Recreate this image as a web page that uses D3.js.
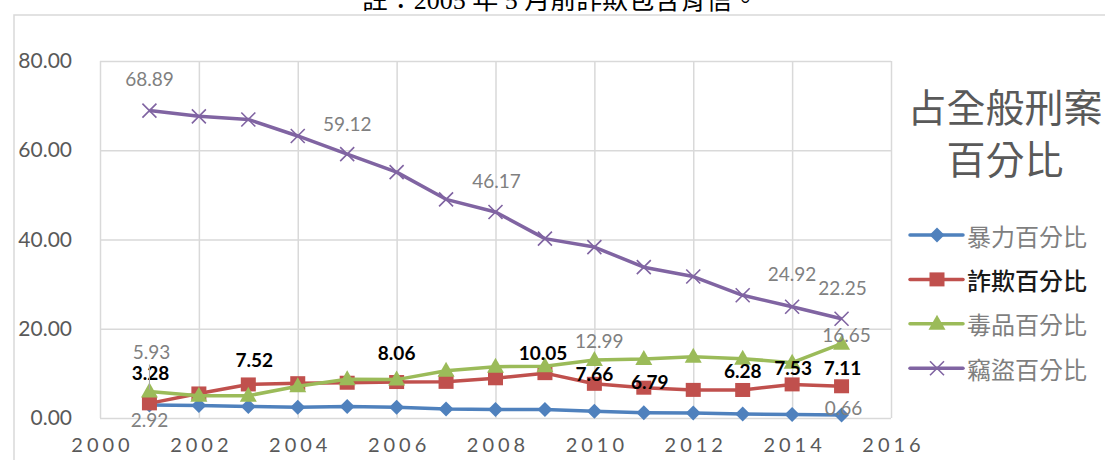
<!DOCTYPE html>
<html>
<head>
  <meta charset="utf-8">
  <title>占全般刑案百分比</title>
  <style>
    body {
      margin: 0;
      padding: 0;
      background-color: #fff;
      overflow: hidden;
    }
    text {
      font-family: Lato, "Noto Sans CJK TC", sans-serif;
    }
  </style>
</head>
<body>
  <div id="chart"></div>

  <script src="https://d3js.org/d3.v7.min.js"></script>
  <script>
    // values, 2001-2015
    const years = [2001, 2002, 2003, 2004, 2005, 2006, 2007, 2008, 2009, 2010, 2011, 2012, 2013, 2014, 2015];
    const violence = [2.92, 2.8, 2.6, 2.4, 2.6, 2.4, 2.0, 1.9, 1.9, 1.5, 1.2, 1.1, 0.9, 0.8, 0.66];
    const fraud = [3.28, 5.5, 7.52, 7.8, 7.9, 8.06, 8.1, 8.9, 10.05, 7.66, 6.79, 6.3, 6.28, 7.53, 7.11];
    const drugs = [5.93, 5.0, 5.0, 7.1, 8.7, 8.6, 10.6, 11.5, 11.6, 12.99, 13.2, 13.7, 13.3, 12.4, 16.65];
    const theft = [68.89, 67.6, 66.9, 63.2, 59.12, 55.1, 49.0, 46.17, 40.2, 38.3, 33.8, 31.7, 27.5, 24.92, 22.25];

    const seriesNames = ['暴力百分比', '詐欺百分比', '毒品百分比', '竊盜百分比'];
    const xTicks = [2000, 2002, 2004, 2006, 2008, 2010, 2012, 2014, 2016];
    const yTicks = [0, 20, 40, 60, 80];
    const legendTitle = ['占全般刑案', '百分比'];
    const note = '註：2005 年 5 月前詐欺包含背信。';

    const series = [
      { name: seriesNames[0], values: violence, color: '#4f81bd', marker: 'diamond' },
      { name: seriesNames[1], values: fraud, color: '#c0504d', marker: 'square' },
      { name: seriesNames[2], values: drugs, color: '#9bbb59', marker: 'triangle' },
      { name: seriesNames[3], values: theft, color: '#8064a2', marker: 'cross' }
    ];

    // which points carry a data label, and where the label sits relative to its point
    const labelSpots = [
      { s: 0, i: 0, dx: 0, dy: 15 },
      { s: 0, i: 14, dx: 2, dy: -8 },
      { s: 1, i: 0, dx: 1, dy: -31 },
      { s: 1, i: 2, dx: 6, dy: -25 },
      { s: 1, i: 5, dx: 0, dy: -30 },
      { s: 1, i: 8, dx: -2, dy: -21 },
      { s: 1, i: 9, dx: 0, dy: -10 },
      { s: 1, i: 10, dx: 6, dy: -6 },
      { s: 1, i: 12, dx: 0, dy: -19 },
      { s: 1, i: 13, dx: 1, dy: -17 },
      { s: 1, i: 14, dx: 1, dy: -19 },
      { s: 2, i: 0, dx: 2, dy: -40, leader: true },
      { s: 2, i: 9, dx: 5, dy: -20 },
      { s: 2, i: 14, dx: 5, dy: -9 },
      { s: 3, i: 0, dx: 0, dy: -32 },
      { s: 3, i: 4, dx: 0, dy: -31 },
      { s: 3, i: 7, dx: 1, dy: -31 },
      { s: 3, i: 13, dx: 0, dy: -33 },
      { s: 3, i: 14, dx: 1, dy: -31 }
    ];

    const width = 1105, height = 460;

    const svg = d3.select('#chart')
      .append('svg')
      .attr('width', width)
      .attr('height', height);

    // outer chart frame (cropped on the right and bottom)
    svg.append('path')
      .attr('d', 'M14,460 L14,15 L1105,15')
      .attr('fill', 'none')
      .attr('stroke', '#d9d9d9')
      .attr('stroke-width', 1.5);

    // note line above the chart, cut by the top edge like the source
    svg.append('text')
      .attr('x', 560)
      .attr('y', 9)
      .attr('text-anchor', 'middle')
      .style('font-family', '"Liberation Serif", "Noto Sans CJK TC", serif')
      .style('font-size', '26px')
      .attr('fill', '#000')
      .text(note);

    const x = d3.scaleLinear().domain([2000, 2016]).range([100, 891]);
    const y = d3.scaleLinear().domain([0, 80]).range([418, 61]);

    // gridlines
    const gx = svg.append('g')
      .attr('transform', 'translate(0,61)')
      .call(d3.axisBottom(x).tickValues(xTicks).tickSize(357).tickFormat(''));
    const gy = svg.append('g')
      .attr('transform', 'translate(100,0)')
      .call(d3.axisRight(y).tickValues(yTicks).tickSize(791).tickFormat(''));
    [gx, gy].forEach(g => {
      g.select('.domain').remove();
      g.selectAll('line').attr('stroke', '#d9d9d9').attr('stroke-width', 1.5);
    });

    // y labels
    const ya = svg.append('g')
      .attr('transform', 'translate(72,0)')
      .call(d3.axisLeft(y).tickValues(yTicks).tickSize(0).tickPadding(0).tickFormat(d3.format('.2f')));
    ya.select('.domain').remove();
    ya.selectAll('text')
      .style('font-family', 'Lato, sans-serif')
      .style('font-size', '21px')
      .attr('fill', '#595959');

    // x labels
    const xa = svg.append('g')
      .attr('transform', 'translate(0,438)')
      .call(d3.axisBottom(x).tickValues(xTicks).tickSize(0).tickPadding(0).tickFormat(d3.format('d')));
    xa.select('.domain').remove();
    xa.selectAll('text')
      .style('font-family', 'Lato, sans-serif')
      .style('font-size', '20px')
      .style('letter-spacing', '4px')
      .attr('dx', '2')
      .attr('dy', '0.71em')
      .attr('fill', '#595959');

    const line = d3.line()
      .x((d, i) => x(years[i]))
      .y(d => y(d));

    function drawMarker(g, type, color) {
      if (type === 'diamond') {
        g.append('path').attr('d', 'M0,-7.5L7.5,0L0,7.5L-7.5,0Z').attr('fill', color);
      } else if (type === 'square') {
        g.append('rect').attr('x', -7.5).attr('y', -7).attr('width', 15).attr('height', 14).attr('fill', color);
      } else if (type === 'triangle') {
        g.append('path').attr('d', 'M0,-9L8.5,6L-8.5,6Z').attr('fill', color);
      } else {
        g.append('path').attr('d', 'M-7,-7L7,7M-7,7L7,-7')
          .attr('stroke', color).attr('stroke-width', 1.6).attr('fill', 'none');
      }
    }

    series.forEach(s => {
      const g = svg.append('g');
      g.append('path')
        .datum(s.values)
        .attr('d', line)
        .attr('fill', 'none')
        .attr('stroke', s.color)
        .attr('stroke-width', 3.5)
        .attr('stroke-linejoin', 'round');
      g.selectAll('g.m')
        .data(s.values)
        .enter().append('g')
        .attr('class', 'm')
        .attr('transform', (d, i) => `translate(${x(years[i])},${y(d)})`)
        .each(function () { drawMarker(d3.select(this), s.marker, s.color); });
    });

    // data labels
    const lab = svg.append('g');
    labelSpots.forEach(l => {
      const v = series[l.s].values[l.i];
      const px = x(years[l.i]), py = y(v);
      if (l.leader) {
        lab.append('line')
          .attr('x1', px).attr('x2', px)
          .attr('y1', py + l.dy + 13).attr('y2', py - 2)
          .attr('stroke', '#a6a6a6').attr('stroke-width', 1);
      }
      const bold = l.s === 1;
      lab.append('text')
        .attr('x', px + l.dx)
        .attr('y', py + l.dy)
        .attr('text-anchor', 'middle')
        .attr('dominant-baseline', 'central')
        .style('font-size', '19px')
        .style('font-weight', bold ? 'bold' : 'normal')
        .attr('fill', bold ? '#000' : '#808080')
        .text(d3.format('.2f')(v));
    });

    // legend
    const legend = svg.append('g');
    legend.selectAll('text.title')
      .data(legendTitle)
      .enter().append('text')
      .attr('class', 'title')
      .attr('x', 1005)
      .attr('y', (d, i) => 105 + i * 52)
      .attr('text-anchor', 'middle')
      .attr('dominant-baseline', 'central')
      .style('font-family', '"Noto Sans CJK TC", sans-serif')
      .style('font-size', '39px')
      .attr('fill', '#595959')
      .text(d => d);

    series.forEach((s, k) => {
      const ly = 235 + k * 44.4;
      const g = legend.append('g');
      g.append('line')
        .attr('x1', 910).attr('x2', 963)
        .attr('y1', ly).attr('y2', ly)
        .attr('stroke', s.color).attr('stroke-width', 3.5)
        .attr('stroke-linecap', 'round');
      const m = g.append('g').attr('transform', `translate(937,${ly})`);
      drawMarker(m, s.marker, s.color);
      g.append('text')
        .attr('x', 967)
        .attr('y', ly)
        .attr('dominant-baseline', 'central')
        .style('font-family', '"Noto Sans CJK TC", sans-serif')
        .style('font-size', '24px')
        .style('font-weight', k === 1 ? '500' : 'normal')
        .attr('fill', k === 1 ? '#1a1a1a' : '#7f7f7f')
        .text(s.name);
    });
  </script>
</body>
</html>
